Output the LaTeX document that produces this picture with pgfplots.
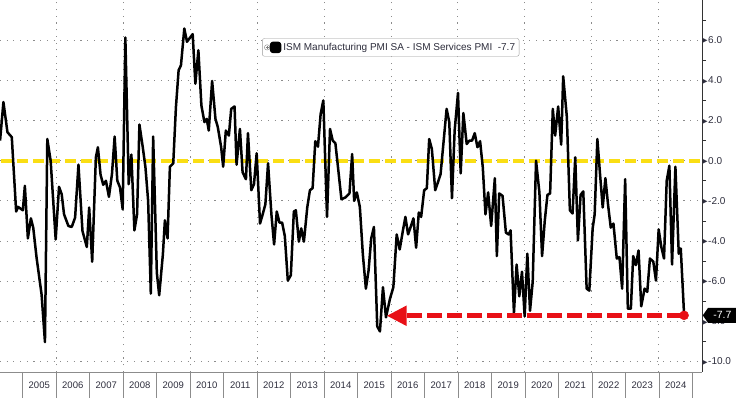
\documentclass[border=0pt]{standalone}
\usepackage{pgfplots}
\pgfplotsset{compat=1.18}
\usepackage{fontspec}
\setmainfont{Liberation Sans}
\newfontfamily\symfont{DejaVu Sans}
\usetikzlibrary{arrows.meta,shapes.symbols}
\definecolor{ylw}{RGB}{250,222,20}
\definecolor{rd}{RGB}{232,16,22}
\definecolor{txt}{RGB}{45,45,60}
\definecolor{grd}{RGB}{140,140,140}
\newcommand\tri{{\symfont\fontsize{6.5}{6.5}\selectfont\raisebox{0.6pt}{▶}}\hspace{0.6pt}}
\begin{document}
\begin{tikzpicture}
\begin{axis}[
  at={(0pt,26pt)}, anchor=south west,
  scale only axis, width=702pt, height=372pt,
  xmin=2004.328, xmax=2025.284, ymin=-10.52, ymax=8,
  axis x line*=bottom, axis y line*=right,
  axis line style={-},
  x axis line style={draw=grd, line width=0.8pt},
  y axis line style={draw=black!80, line width=0.8pt},
  clip=false,
  tick align=outside,
  major tick length=0pt, minor tick length=4pt,
  minor tick style={black!80, line width=0.6pt},
  xtick={2005.5,2006.5,2007.5,2008.5,2009.5,2010.5,2011.5,2012.5,2013.5,2014.5,2015.5,2016.5,2017.5,2018.5,2019.5,2020.5,2021.5,2022.5,2023.5,2024.5},
  xticklabels={2005,2006,2007,2008,2009,2010,2011,2012,2013,2014,2015,2016,2017,2018,2019,2020,2021,2022,2023,2024},
  xticklabel style={anchor=center, yshift=-13pt, font=\fontsize{9.5}{11}\selectfont, text=txt},
  extra x ticks={2006,2008,2010,2012,2014,2016,2018,2020,2022,2024},
  extra x tick labels={},
  extra x tick style={grid=major},
  ytick={-10,-8,-6,-4,-2,0,2,4,6},
  yticklabels={\tri-10.0,\tri-8.0,\tri-6.0,\tri-4.0,\tri-2.0,\tri0.0,\tri2.0,\tri4.0,\tri6.0},
  extra y ticks={8}, extra y tick labels={}, extra y tick style={grid=major},
  minor ytick={-9,-7,-5,-3,-1,1,3,5,7},
  yticklabel style={anchor=west, inner xsep=0.4pt, font=\fontsize{10}{12}\selectfont, text=txt},
  ymajorgrids=true,
  major grid style={grd, line width=1pt, dash pattern=on 1.1pt off 5.6pt},
  legend style={at={(0.3735,0.897)}, anchor=north west, draw=gray!80, rounded corners=2pt,
    fill=white, font=\fontsize{10}{12}\selectfont, text=txt, inner xsep=2pt, inner ysep=2.5pt},
  legend cell align=left,
  legend image code/.code={
    \draw[gray, line width=0.4pt] (0pt,-2.5pt) rectangle (5pt,2.5pt);
    \draw[gray, line width=0.4pt] (1pt,0pt)--(4pt,0pt) (2.5pt,-1.5pt)--(2.5pt,1.5pt);
    \fill[black] (6.5pt,-4.5pt) rectangle (15.5pt,4.5pt);
  },
]
\pgfplotsinvokeforeach{2005,...,2025}{\draw[grd, line width=0.7pt] (axis cs:#1,-10.52) -- ++(0pt,-26pt);}
\addplot[ylw, line width=4pt, dash pattern=on 11pt off 5pt, forget plot] coordinates {(2004.37,0) (2025.284,0)};
\addplot[black, line width=2.5pt, line join=round] coordinates {
(2004.33,1.0)(2004.43,2.92)(2004.55,1.42)(2004.68,1.17)(2004.81,-2.53)(2004.87,-2.3)(2005.01,-2.47)(2005.07,-1.25)(2005.16,-3.87)(2005.25,-2.87)(2005.32,-3.33)(2005.42,-4.83)(2005.57,-6.67)(2005.67,-9.03)(2005.74,1.08)(2005.84,0)(2005.99,-3.92)(2006.09,-1.3)(2006.17,-1.67)(2006.24,-2.67)(2006.37,-3.25)(2006.47,-3.3)(2006.57,-2.83)(2006.67,-0.2)(2006.79,-3.5)(2006.92,-4.3)(2006.99,-2.33)(2007.08,-5.03)(2007.19,0.17)(2007.25,0.67)(2007.33,-0.7)(2007.41,-1.2)(2007.49,-1.0)(2007.58,-1.8)(2007.67,-0.67)(2007.75,1.2)(2007.83,-1.0)(2007.91,-1.33)(2007.99,-2.42)(2008.07,6.13)(2008.17,-1.17)(2008.25,0.3)(2008.34,-3.47)(2008.42,-2.67)(2008.49,1.8)(2008.59,0.67)(2008.67,-0.33)(2008.75,-2.0)(2008.83,-6.62)(2008.90,1.2)(2009.01,-5.58)(2009.08,-6.7)(2009.19,-4.67)(2009.25,-2.97)(2009.33,-3.87)(2009.40,-0.3)(2009.50,-0.13)(2009.58,2.67)(2009.66,4.5)(2009.73,4.75)(2009.83,6.58)(2009.91,5.92)(2009.98,6.08)(2010.08,6.3)(2010.16,3.83)(2010.25,5.5)(2010.34,2.75)(2010.43,1.92)(2010.50,2.08)(2010.56,1.5)(2010.66,3.97)(2010.76,2.08)(2010.83,1.67)(2010.93,0.67)(2010.99,-0.3)(2011.07,1.5)(2011.16,1.25)(2011.23,2.58)(2011.33,2.7)(2011.39,-0.2)(2011.49,1.58)(2011.57,-0.58)(2011.67,-0.92)(2011.73,1.37)(2011.83,-1.47)(2011.91,-1.17)(2011.99,0.37)(2012.09,-3.13)(2012.17,-2.67)(2012.25,-2.17)(2012.33,-0.13)(2012.43,-2.67)(2012.51,-4.17)(2012.59,-2.53)(2012.67,-3.08)(2012.75,-3.08)(2012.83,-3.75)(2012.92,-5.97)(2013.01,-5.7)(2013.10,-2.53)(2013.16,-2.47)(2013.25,-4.03)(2013.32,-3.37)(2013.40,-4.03)(2013.50,-2.33)(2013.58,-1.47)(2013.66,-1.37)(2013.74,0.97)(2013.82,0.7)(2013.90,2.33)(2013.98,3.0)(2014.09,-2.8)(2014.18,1.58)(2014.26,1.0)(2014.34,0.87)(2014.44,-0.67)(2014.52,-1.92)(2014.64,-1.83)(2014.76,-1.63)(2014.84,0.33)(2014.90,-2.0)(2014.98,-1.58)(2015.07,-2.3)(2015.16,-4.67)(2015.25,-6.37)(2015.33,-5.47)(2015.41,-3.87)(2015.49,-3.3)(2015.59,-8.25)(2015.67,-8.5)(2015.76,-6.3)(2015.85,-7.8)(2015.97,-6.87)(2016.07,-6.3)(2016.17,-3.67)(2016.26,-4.42)(2016.35,-3.53)(2016.43,-2.8)(2016.51,-3.67)(2016.58,-3.33)(2016.67,-2.87)(2016.75,-4.33)(2016.83,-2.58)(2016.90,-2.8)(2016.99,-1.47)(2017.07,-1.37)(2017.14,1.08)(2017.22,0.58)(2017.32,-1.47)(2017.40,-1.08)(2017.48,-0.67)(2017.58,1.13)(2017.66,2.58)(2017.74,1.92)(2017.82,-1.87)(2017.90,1.5)(2018.00,3.37)(2018.08,-0.63)(2018.16,2.37)(2018.26,0.83)(2018.34,1.0)(2018.42,1.0)(2018.50,1.37)(2018.58,0.67)(2018.66,0.97)(2018.74,-0.33)(2018.82,-2.67)(2018.90,-1.58)(2018.99,-3.25)(2019.10,-0.87)(2019.16,-4.75)(2019.23,-1.63)(2019.33,-1.75)(2019.43,-3.58)(2019.51,-3.67)(2019.57,-3.47)(2019.67,-7.58)(2019.75,-5.17)(2019.83,-6.75)(2019.91,-5.53)(2019.99,-7.75)(2020.07,-4.63)(2020.15,-7.47)(2020.23,-6.03)(2020.33,0)(2020.43,-1.58)(2020.51,-4.75)(2020.59,-3.0)(2020.67,-1.7)(2020.75,-1.63)(2020.83,2.58)(2020.90,1.25)(2020.99,2.7)(2021.08,0.8)(2021.14,4.2)(2021.25,2.17)(2021.34,-2.47)(2021.42,-2.63)(2021.50,0.17)(2021.58,-3.97)(2021.66,-1.7)(2021.74,-1.53)(2021.84,-6.37)(2021.92,-6.47)(2022.02,-3.37)(2022.08,-2.67)(2022.16,1.08)(2022.24,-0.67)(2022.32,-2.33)(2022.40,-0.87)(2022.48,-2.2)(2022.56,-3.33)(2022.64,-3.13)(2022.74,-4.87)(2022.82,-4.8)(2022.90,-6.37)(2022.99,-0.92)(2023.07,-7.37)(2023.16,-7.37)(2023.23,-4.75)(2023.31,-5.2)(2023.39,-4.47)(2023.47,-7.25)(2023.57,-6.37)(2023.65,-6.53)(2023.73,-4.87)(2023.83,-5.03)(2023.91,-5.97)(2023.99,-3.42)(2024.07,-4.3)(2024.15,-4.87)(2024.23,-1.0)(2024.31,-0.25)(2024.39,-5.17)(2024.49,-0.3)(2024.59,-4.63)(2024.65,-4.37)(2024.75,-7.7)
};
\addlegendentry{ISM Manufacturing PMI SA - ISM Services PMI \ -7.7}
\addplot[rd, line width=5pt, dash pattern=on 15pt off 5pt, -{Triangle[length=20pt,width=19pt]}, forget plot] coordinates {(2024.70,-7.72) (2015.87,-7.72)};
\addplot[rd, only marks, mark=*, mark size=4.5pt, forget plot] coordinates {(2024.75,-7.7)};
\node[signal, signal to=west, signal pointer angle=110, fill=black, text=white, anchor=west, inner xsep=3pt, inner ysep=1pt, minimum height=15pt, minimum width=34pt, font=\fontsize{10.5}{12}\selectfont] at (axis cs:2025.30,-7.7) {-7.7};
\end{axis}
\pgfresetboundingbox
\path (0pt,0pt) rectangle (736pt,398pt);
\end{tikzpicture}
\end{document}
